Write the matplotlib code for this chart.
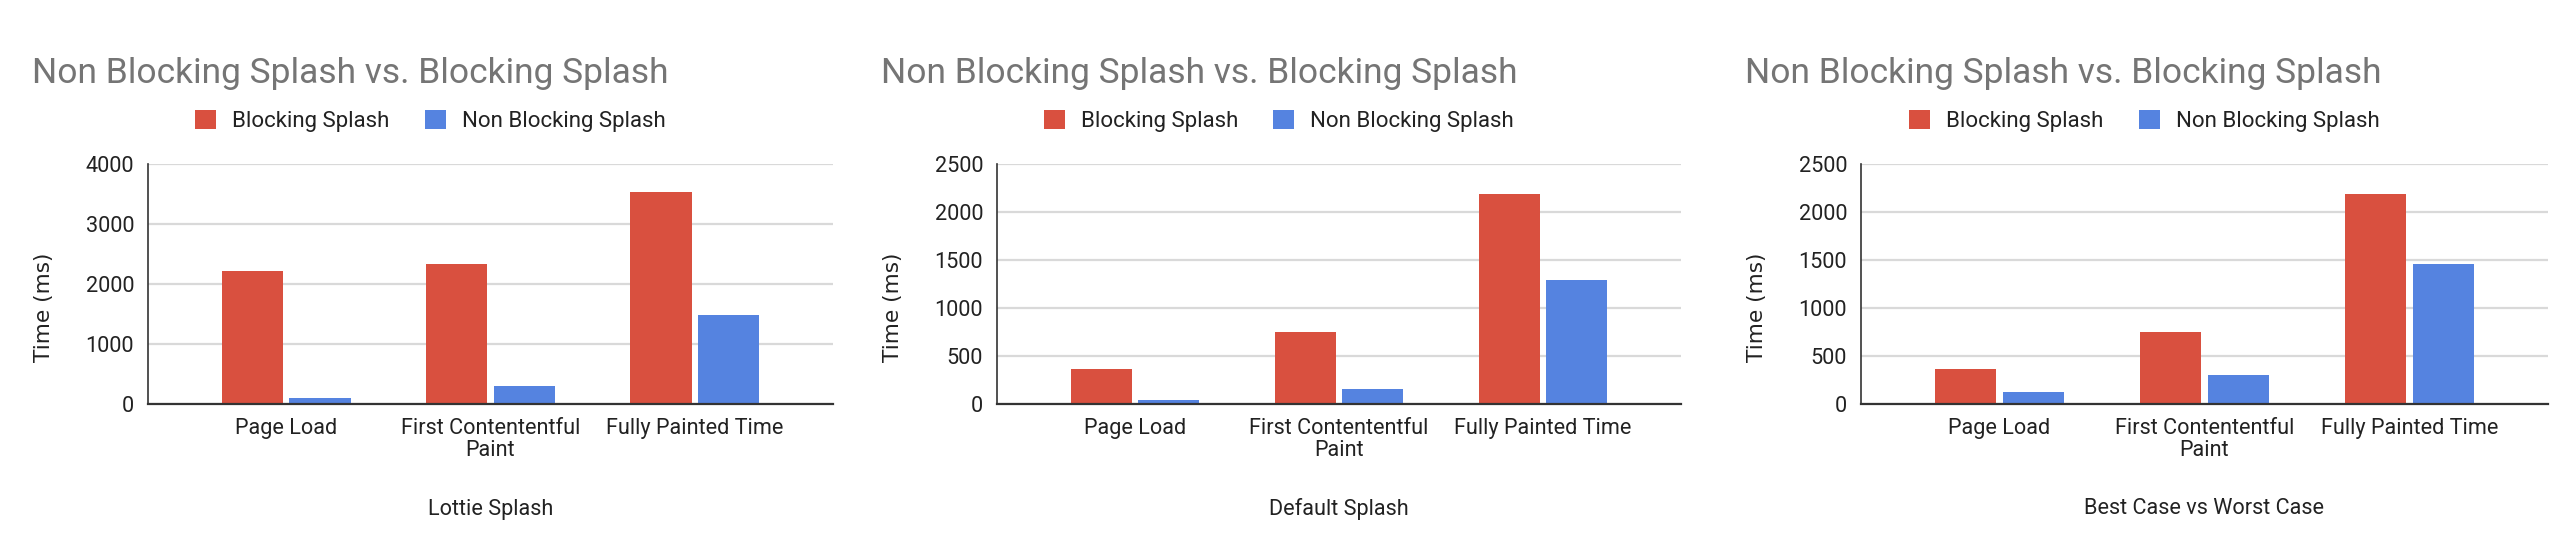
import matplotlib
matplotlib.use("Agg")
import matplotlib.pyplot as plt
import numpy as np

plt.rcParams['font.family'] = ['Roboto', 'DejaVu Sans']

categories = ["Page Load", "First Contententful\nPaint", "Fully Painted Time"]
series_names = ["Blocking Splash", "Non Blocking Splash"]

lottie_blocking = [2220, 2330, 3530]
lottie_nonblocking = [100, 300, 1480]
default_blocking = [360, 750, 2190]
default_nonblocking = [45, 160, 1290]
best_worst_blocking = [360, 750, 2190]
best_worst_nonblocking = [120, 305, 1460]

panel_xlabels = ["Lottie Splash", "Default Splash", "Best Case vs Worst Case"]
panel_ymax = [4000, 2500, 2500]
panel_ystep = [1000, 500, 500]
panel_data = [(lottie_blocking, lottie_nonblocking),
              (default_blocking, default_nonblocking),
              (best_worst_blocking, best_worst_nonblocking)]

title = "Non Blocking Splash vs. Blocking Splash"
ylabel = "Time (ms)"

RED = "#d9503f"
BLUE = "#5583e0"

W, H = 2556, 554
fig = plt.figure(figsize=(W / 100, H / 100), dpi=100)

ax_left_px = [148, 997, 1861]
ax_right_px = [833, 1681, 2548]
top_px, bot_px = 164, 404

fs_tick = 15.6
fs_title = 25.5
fs_leg = 16.0

for i in range(3):
    l, r = ax_left_px[i], ax_right_px[i]
    ax = fig.add_axes([l / W, 1 - bot_px / H, (r - l) / W, (bot_px - top_px) / H])
    x = np.arange(len(categories))
    bw = 0.30
    b, nb = panel_data[i]
    ax.bar(x - 0.165, b, width=bw, color=RED, label=series_names[0], zorder=3)
    ax.bar(x + 0.165, nb, width=bw, color=BLUE, label=series_names[1], zorder=3)
    ax.set_xlim(-0.676, 2.676)
    ax.set_ylim(0, panel_ymax[i])
    ax.set_yticks(np.arange(0, panel_ymax[i] + 1, panel_ystep[i]))
    ax.set_xticks(x)
    ax.set_xticklabels(categories, fontsize=fs_tick, color="#222222", linespacing=1.1)
    ax.tick_params(axis='x', length=0, pad=10)
    ax.tick_params(axis='y', length=0, pad=10, labelsize=fs_tick, labelcolor="#222222")
    ax.grid(axis='y', color="#d9d9d9", linewidth=1.6, zorder=0)
    for s in ['top', 'right']:
        ax.spines[s].set_visible(False)
    ax.spines['bottom'].set_color("#333333")
    ax.spines['bottom'].set_linewidth(1.6)
    ax.spines['bottom'].set_zorder(4)
    ax.spines['left'].set_color("#333333")
    ax.spines['left'].set_linewidth(1.2)
    ax.set_ylabel(ylabel, fontsize=fs_tick, color="#222222", family=['DejaVu Sans'])
    ax.yaxis.set_label_coords(-104 / (r - l), (bot_px - 307) / (bot_px - top_px))
    ax.yaxis.label.set_va('center')
    ax.set_xlabel(panel_xlabels[i], fontsize=fs_tick, color="#222222")
    ax.xaxis.set_label_coords(0.5, -(509 - bot_px) / (bot_px - top_px))
    ax.xaxis.label.set_va('center')

    fig.text((l - 116) / W, 1 - 83 / H, title, fontsize=fs_title, color="#757575",
             ha='left', va='baseline')

    fpx = fs_leg * 100 / 72
    handles, labels = ax.get_legend_handles_labels()
    cx = ((l + r) / 2 - 60) / W
    fig.legend(handles, labels, loc='center', bbox_to_anchor=(cx, 1 - 121 / H),
               ncol=2, frameon=False, fontsize=fs_leg,
               handlelength=21 / fpx, handleheight=21 / fpx,
               handletextpad=16 / fpx, columnspacing=35 / fpx,
               labelcolor="#222222", borderaxespad=0, borderpad=0)

fig.savefig("out.png", dpi=100)
